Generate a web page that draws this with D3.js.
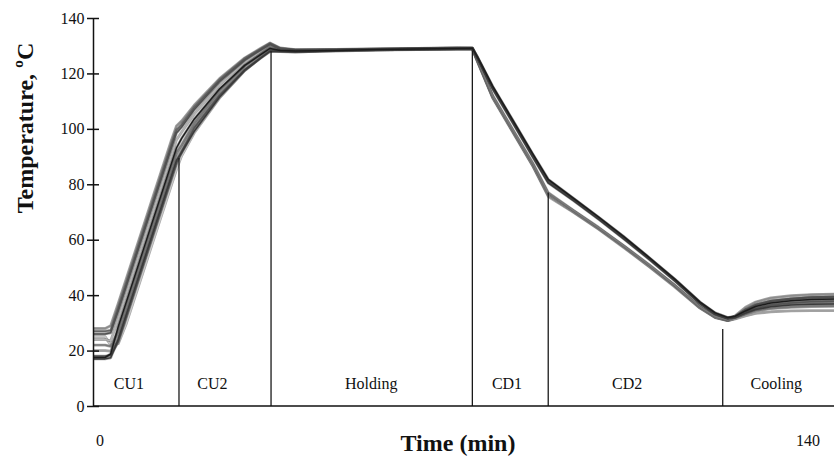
<!DOCTYPE html>
<html>
<head>
<meta charset="utf-8">
<script src="https://cdn.jsdelivr.net/npm/d3@7"></script>
<style>
  html, body { margin: 0; padding: 0; background: #fff; }
  svg { display: block; }
</style>
</head>
<body>
<svg id="chart" width="834" height="461"></svg>
<script>
// ---------- data ----------
const time = [0, 2.4, 3.5, 5, 6.5, 8, 10, 12, 14, 15.5, 16.5, 17.5, 20, 25, 30, 33, 35, 37, 40, 48, 56, 64, 72, 75, 76, 79, 83, 87, 90, 95, 100, 105, 110, 115, 120, 123, 125.5, 127, 129, 131, 134, 138, 142, 146.5];

const run1 = [28, 28, 29, 37.1, 45.5, 53.9, 65.1, 76.3, 87.5, 95.9, 101, 102.8, 108.5, 118.1, 125.6, 128.9, 131, 129.2, 128.6, 128.7, 128.9, 129.0, 129.1, 129.0, 124.8, 111.8, 99.4, 87.1, 76.5, 70.4, 64.2, 57.6, 50.7, 43.5, 35.7, 32.2, 31.0, 32.6, 35.6, 37.5, 39.0, 39.8, 40.2, 40.4];
const run2 = [26, 26, 26.4, 34.3, 42.7, 51.1, 62.3, 73.5, 84.7, 93.1, 98.5, 100.6, 106.9, 117, 124.8, 128.3, 130.5, 128.9, 128.4, 128.5, 128.8, 128.9, 129.2, 129.2, 125.8, 115.0, 102.7, 90.3, 81.2, 74.6, 67.8, 60.7, 53.3, 45.6, 37.3, 33.3, 31.7, 32.3, 34.8, 36.6, 38.0, 38.8, 39.3, 39.5];
const run3 = [24, 24, 23.5, 31.5, 39.9, 48.3, 59.5, 70.7, 81.9, 90.3, 96, 98.8, 105.3, 115.8, 124.1, 127.7, 130, 128.6, 128.2, 128.4, 128.6, 128.8, 128.9, 128.9, 124.3, 111.2, 98.8, 86.4, 75.6, 69.9, 63.7, 57.1, 50.2, 43.0, 35.3, 31.9, 30.8, 31.6, 33.5, 35.0, 36.2, 36.9, 37.2, 37.3];
const run4 = [17.5, 17.5, 18.8, 28.7, 37.1, 45.5, 56.7, 67.9, 79.1, 87.5, 93.1, 96.5, 103.5, 114.4, 122.9, 126.6, 129, 128.3, 128.1, 128.3, 128.6, 128.8, 129.0, 129.1, 126.0, 115.4, 103.1, 90.8, 81.8, 74.9, 68.1, 61.0, 53.5, 45.8, 37.5, 33.6, 31.9, 32.4, 34.3, 35.9, 37.2, 38.0, 38.4, 38.6];
const run5 = [22, 22, 21.5, 27, 35.4, 43.8, 55, 66.2, 77.4, 85.8, 91.4, 94.2, 102.1, 113.8, 122.9, 126.9, 129.5, 128.4, 128.0, 128.3, 128.5, 128.7, 128.9, 128.9, 125.0, 112.1, 99.8, 87.5, 77, 70.6, 64.4, 57.8, 50.9, 43.6, 35.8, 32.4, 31.1, 31.9, 33.2, 34.3, 35.1, 35.6, 35.9, 36.0];
const run6 = [20, 20, 19.8, 25.4, 33.8, 42.2, 53.4, 64.6, 75.8, 84.2, 89.8, 92.8, 101.1, 112.8, 121.9, 125.9, 128.5, 128.0, 127.8, 128.1, 128.4, 128.6, 128.8, 128.8, 124.4, 111.4, 99.0, 86.6, 76, 70.1, 63.9, 57.3, 50.4, 43.2, 35.4, 32.0, 30.8, 31.4, 32.5, 33.4, 34.0, 34.3, 34.4, 34.4];
const run7 = [18, 18, 18.3, 23.1, 31.5, 39.9, 51.1, 62.3, 73.5, 81.9, 87.5, 91.5, 100.3, 112.1, 121.3, 125.4, 128, 128.2, 128.3, 128.4, 128.7, 128.9, 129.1, 129.1, 125.6, 114.7, 102.4, 89.9, 80.8, 74.3, 67.5, 60.4, 53.0, 45.3, 37.1, 33.2, 31.7, 32.1, 33.8, 35.2, 36.4, 37.2, 37.6, 37.8];
const run8 = [25, 25, 22, 22.5, 29.3, 37.7, 48.9, 60.1, 71.3, 79.7, 85.3, 90.2, 98.5, 111.1, 121, 125.6, 128.3, 128.1, 127.9, 128.2, 128.5, 128.7, 128.8, 128.8, 124.6, 111.6, 99.2, 86.9, 76.3, 70.3, 64.1, 57.5, 50.6, 43.4, 35.6, 32.1, 30.9, 31.7, 33.9, 35.6, 36.9, 37.6, 38.0, 38.1];
const run9 = [27, 27, 27.3, 35.4, 43.8, 52.2, 63.4, 74.6, 85.8, 94.2, 99.6, 101.6, 107.7, 117.6, 125.3, 128.6, 130.8, 129.0, 128.5, 128.6, 128.8, 129.0, 129.2, 129.1, 125.9, 115.2, 102.9, 90.5, 81.5, 74.8, 68.0, 60.9, 53.4, 45.7, 37.4, 33.5, 31.8, 32.2, 34.6, 36.4, 37.8, 38.6, 39.1, 39.3];
const run10 = [17, 17, 17.4, 24.2, 32.6, 41, 52.2, 63.4, 74.6, 83, 88.6, 91.4, 99.1, 111.4, 121.1, 125.3, 128, 127.9, 127.7, 128.2, 128.5, 128.7, 128.9, 129.0, 125.5, 114.5, 102.2, 89.7, 80.5, 74.1, 67.3, 60.2, 52.9, 45.2, 36.9, 33.1, 31.6, 32.0, 33.5, 34.8, 35.8, 36.4, 36.7, 36.8];

const runs = [run8, run3, run6, run1, run5, run9, run2, run7, run10, run4];
const runColors = ["#c8c8c8", "#b4b4b4", "#a0a0a0", "#8c8c8c", "#7a7a7a", "#666666", "#505050", "#555555", "#3a3a3a", "#1c1c1c"];

const phaseNames = ["CU1", "CU2", "Holding", "CD1", "CD2", "Cooling"];
const phaseLabelTime = [7.1, 23.6, 55, 81.85, 105.6, 135.1];
const phaseBoundaryTime = [17, 35.2, 75, 90, 124.5];
const phaseBoundaryTop = [89.5, 128, 128.2, 77, 27.8];

const yTicks = [0, 20, 40, 60, 80, 100, 120, 140];
const xTickLabels = [0, 140];

// ---------- layout ----------
const svg = d3.select("#chart");
const serif = "'Liberation Serif', 'Times New Roman', serif";

const x = d3.scaleLinear().domain([0, 146.5]).range([93, 834]);
const y = d3.scaleLinear().domain([0, 140]).range([406, 18]);

// series lines
const line = d3.line()
  .x((d, i) => x(time[i]))
  .y(d => y(d))
  .curve(d3.curveLinear);

const gLines = svg.append("g");
runs.forEach((r, k) => {
  gLines.append("path")
    .datum(r)
    .attr("d", line)
    .attr("fill", "none")
    .attr("stroke", "#3c3c3c")
    .attr("stroke-opacity", 0.45)
    .attr("stroke-width", 2.8)
    .attr("stroke-linejoin", "round");
  gLines.append("path")
    .datum(r)
    .attr("d", line)
    .attr("fill", "none")
    .attr("stroke", runColors[k])
    .attr("stroke-width", 1.5)
    .attr("stroke-linejoin", "round");
});

// phase boundaries
svg.append("g").selectAll("line")
  .data(phaseBoundaryTime)
  .join("line")
  .attr("x1", d => x(d)).attr("x2", d => x(d))
  .attr("y1", y(0))
  .attr("y2", (d, i) => y(phaseBoundaryTop[i]))
  .attr("stroke", "#1a1a1a")
  .attr("stroke-width", 1.3);

// phase labels
svg.append("g").selectAll("text")
  .data(phaseNames)
  .join("text")
  .attr("x", (d, i) => x(phaseLabelTime[i]))
  .attr("y", 389)
  .attr("text-anchor", "middle")
  .attr("font-family", serif)
  .attr("font-size", 16)
  .attr("fill", "#111")
  .text(d => d);

// y axis
const yAxis = svg.append("g")
  .attr("transform", `translate(${x(0)},0)`)
  .call(d3.axisLeft(y).tickValues(yTicks).tickSizeInner(6).tickSizeOuter(0).tickPadding(2.5));
yAxis.select(".domain").attr("stroke", "#111").attr("stroke-width", 1.5);
yAxis.selectAll(".tick line").attr("x1", 6).attr("stroke", "#111").attr("stroke-width", 1.5);
yAxis.selectAll(".tick text")
  .attr("font-family", serif)
  .attr("font-size", 16)
  .attr("fill", "#111");

// x axis (line only)
svg.append("line")
  .attr("x1", x(0)).attr("x2", x(146.5))
  .attr("y1", y(0)).attr("y2", y(0))
  .attr("stroke", "#111").attr("stroke-width", 1.5);

// x tick labels
svg.append("g").selectAll("text")
  .data(xTickLabels)
  .join("text")
  .attr("x", d => x(d) + 7)
  .attr("y", 446)
  .attr("text-anchor", "middle")
  .attr("font-family", serif)
  .attr("font-size", 16)
  .attr("fill", "#111")
  .text(d => d);

// titles
svg.append("text")
  .attr("x", 458)
  .attr("y", 451)
  .attr("text-anchor", "middle")
  .attr("font-family", serif)
  .attr("font-weight", "bold")
  .attr("font-size", 24)
  .attr("fill", "#111")
  .text("Time (min)");

svg.append("text")
  .attr("transform", "translate(33,128) rotate(-90)")
  .attr("text-anchor", "middle")
  .attr("font-family", serif)
  .attr("font-weight", "bold")
  .attr("font-size", 24)
  .attr("fill", "#111")
  .text("Temperature, ºC");
</script>
</body>
</html>
